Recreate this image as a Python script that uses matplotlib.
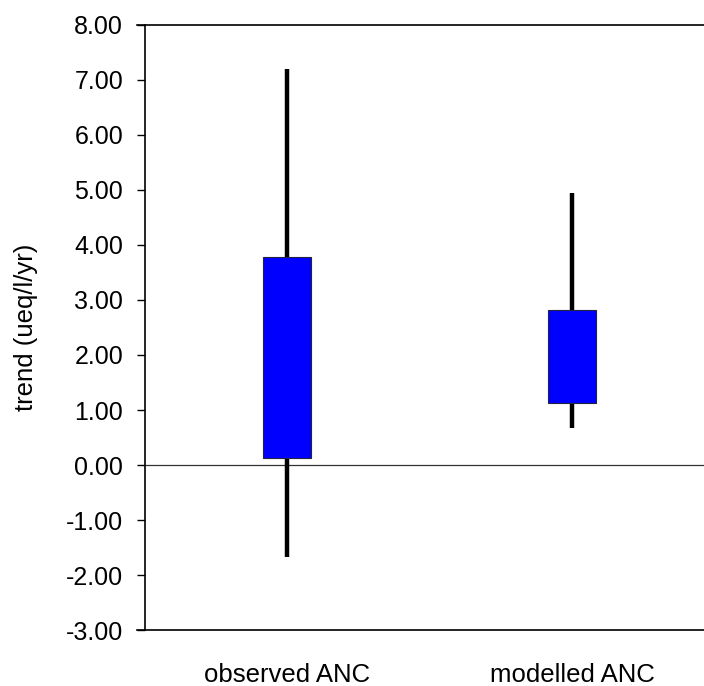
import matplotlib
matplotlib.use("Agg")
import matplotlib.pyplot as plt
import matplotlib.transforms as mtransforms

plt.rcParams['font.family'] = ['Liberation Sans', 'DejaVu Sans']

# data
categories = ["observed ANC", "modelled ANC"]
box_low = [0.13, 1.13]
box_high = [3.78, 2.82]
whisk_low = [-1.67, 0.67]
whisk_high = [7.20, 4.95]
yticks = [-3, -2, -1, 0, 1, 2, 3, 4, 5, 6, 7, 8]

fig = plt.figure(figsize=(7.04, 6.86), dpi=100)
ax = fig.add_axes([0.206, 0.0816, 0.794, 0.882])

xpos = [1, 2]
box_w = 0.168

# whiskers behind the boxes
for x, lo, hi in zip(xpos, whisk_low, whisk_high):
    ax.plot([x, x], [lo, hi], color='black', lw=3.2, solid_capstyle='butt', zorder=2)

ax.bar(xpos, [h - l for l, h in zip(box_low, box_high)], bottom=box_low,
       width=box_w, color='#0000ff', edgecolor='#222244', linewidth=0.8, zorder=3)

ax.axhline(0, color='#333333', lw=0.9, zorder=1)

ax.set_xlim(0.502, 2.463)
ax.set_ylim(-3, 8)
ax.set_yticks(yticks)
ax.set_yticklabels([f"{v:.2f}" for v in yticks])
ax.set_xticks(xpos)
ax.set_xticklabels(categories)

for s in ['top', 'bottom', 'right']:
    ax.spines[s].set_visible(False)
ax.spines['left'].set_linewidth(1.2)

# top and bottom border lines, starting at the tick ends
trans = mtransforms.blended_transform_factory(ax.transAxes, ax.transData)
for yv in (8, -3):
    ax.plot([-0.0143, 1.0], [yv, yv], color='black', lw=1.2, transform=trans, clip_on=False)

ax.tick_params(axis='y', direction='out', length=5.8, width=1.0, pad=10, labelsize=18)
ax.tick_params(axis='x', length=0, pad=24, labelsize=18.5)
ax.set_ylabel("trend (ueq/l/yr)", fontsize=18.5, labelpad=20)

fig.savefig("out.png", dpi=100)
